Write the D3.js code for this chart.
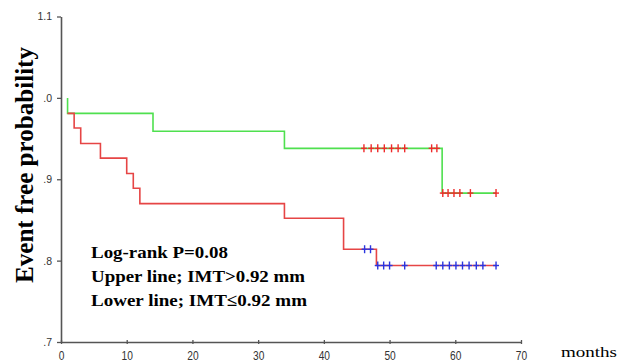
<!DOCTYPE html>
<html><head><meta charset="utf-8">
<script src="https://cdn.jsdelivr.net/npm/d3@7"></script>
<style>html,body{margin:0;padding:0;background:#fff;}svg{display:block;}</style>
</head><body>
<svg id="chart" width="619" height="362"></svg>
<script>
// ---- data ----
const xTicks = [0, 10, 20, 30, 40, 50, 60, 70];
const yTickValues = [0.7, 0.8, 0.9, 1.0, 1.1];
const yTickLabels = [".7", ".8", ".9", ".0", "1.1"];

// Upper line: IMT > 0.92 mm (green, red censor marks)
const upperTimes = [1, 14, 34, 58];
const upperSurv  = [0.981, 0.959, 0.938, 0.883];
const upperEnd = 66.2;
const upperCensor = [46.1, 47.2, 48.2, 49.2, 50.3, 51.3, 52.3, 56.4, 57.2,
                     58.1, 58.9, 59.8, 60.7, 62.3, 66.2];

// Lower line: IMT <= 0.92 mm (red, blue censor marks)
const lowerTimes = [1, 2, 3, 6, 10, 11, 12, 34, 43, 48];
const lowerSurv  = [0.981, 0.963, 0.944, 0.926, 0.907, 0.889, 0.870, 0.852, 0.814, 0.794];
const lowerEnd = 66.3;
const lowerCensor = [46.2, 47.1, 48.2, 49.1, 50.0, 52.3, 57.1, 58.1, 59.1,
                     60.1, 61.1, 62.1, 63.2, 64.2, 66.2];

const annotation = ["Log-rank P=0.08", "Upper line; IMT>0.92 mm", "Lower line; IMT\u22640.92 mm"];

// ---- layout ----
const svg = d3.select("#chart");
const x = d3.scaleLinear().domain([0, 70]).range([61, 521]);
const y = d3.scaleLinear().domain([0.7, 1.1]).range([342, 16.5]);
const axisColor = "#555";

function survAt(times, surv, t) {
  let s = 1;
  for (let i = 0; i < times.length; i++) if (times[i] <= t) s = surv[i];
  return s;
}
function stepPath(times, surv, end, startLevel, skipFirstVertical) {
  const pts = [];
  let level = startLevel;
  times.forEach((t, i) => {
    if (i === 0 && skipFirstVertical) { level = surv[0]; pts.push([t, level]); return; }
    pts.push([t, level]);
    level = surv[i];
    pts.push([t, level]);
  });
  pts.push([end, level]);
  return d3.line().x(d => x(d[0])).y(d => y(d[1]))(pts);
}

// axes
const yAxis = d3.axisLeft(y).tickValues(yTickValues)
  .tickFormat((d, i) => yTickLabels[i]).tickSizeInner(4).tickSizeOuter(0).tickPadding(5);
const gy = svg.append("g").attr("transform", "translate(61,0)").call(yAxis);
gy.select(".domain").attr("stroke", axisColor).attr("stroke-width", 1.6);
gy.selectAll(".tick line").attr("stroke", axisColor).attr("stroke-width", 1.3);
gy.selectAll(".tick text").attr("font-family", "Liberation Sans, Arial, sans-serif")
  .attr("font-size", 10.5).attr("fill", "#333");

const xAxis = d3.axisBottom(x).tickValues(xTicks).tickSizeInner(2).tickSizeOuter(0).tickPadding(7);
const gx = svg.append("g").attr("transform", "translate(0,342)").call(xAxis);
gx.select(".domain").attr("stroke", axisColor).attr("stroke-width", 1.6);
gx.selectAll(".tick line").attr("stroke", axisColor).attr("stroke-width", 1.3).attr("y1", -2);
gx.selectAll(".tick text").attr("font-family", "Liberation Sans, Arial, sans-serif")
  .attr("font-size", 12).attr("fill", "#333")
  .attr("transform", "scale(0.85,1)");

// curves
svg.append("path").attr("d", stepPath(upperTimes, upperSurv, upperEnd, 1.0, false))
  .attr("fill", "none").attr("stroke", "#4fe04f").attr("stroke-width", 1.6);
svg.append("path").attr("d", stepPath(lowerTimes, lowerSurv, lowerEnd, 1.0, true))
  .attr("fill", "none").attr("stroke", "#e64545").attr("stroke-width", 1.6);

// censor marks
function censor(times, evTimes, evSurv, color) {
  const g = svg.append("g").attr("stroke", color).attr("stroke-width", 1.4);
  times.forEach(t => {
    const cx = x(t), cy = y(survAt(evTimes, evSurv, t));
    g.append("line").attr("x1", cx).attr("x2", cx).attr("y1", cy - 4).attr("y2", cy + 4);
    g.append("line").attr("x1", cx - 3).attr("x2", cx + 3).attr("y1", cy).attr("y2", cy);
  });
}
censor(upperCensor, upperTimes, upperSurv, "#f02a2a");
censor(lowerCensor, lowerTimes, lowerSurv, "#2a35e0");

// y title
svg.append("text").attr("transform", "translate(33,165) rotate(-90)")
  .attr("text-anchor", "middle").attr("font-family", "Liberation Serif, Times New Roman, serif")
  .attr("font-weight", "bold").attr("font-size", 25).attr("fill", "#000")
  .attr("textLength", 236).attr("lengthAdjust", "spacingAndGlyphs")
  .text("Event free probability");

// annotation
const annWidths = [137, 214, 216];
annotation.forEach((s, i) => {
  svg.append("text").attr("x", 91).attr("y", 258 + i * 24.2)
    .attr("font-family", "Liberation Serif, Times New Roman, serif")
    .attr("font-weight", "bold").attr("font-size", 17.5).attr("fill", "#000")
    .attr("textLength", annWidths[i]).attr("lengthAdjust", "spacingAndGlyphs")
    .text(s);
});

// months label
svg.append("text").attr("x", 561).attr("y", 356.5)
  .attr("font-family", "Liberation Serif, Times New Roman, serif")
  .attr("font-size", 15.5).attr("fill", "#000")
  .attr("textLength", 56).attr("lengthAdjust", "spacingAndGlyphs")
  .text("months");
</script>
</body></html>
